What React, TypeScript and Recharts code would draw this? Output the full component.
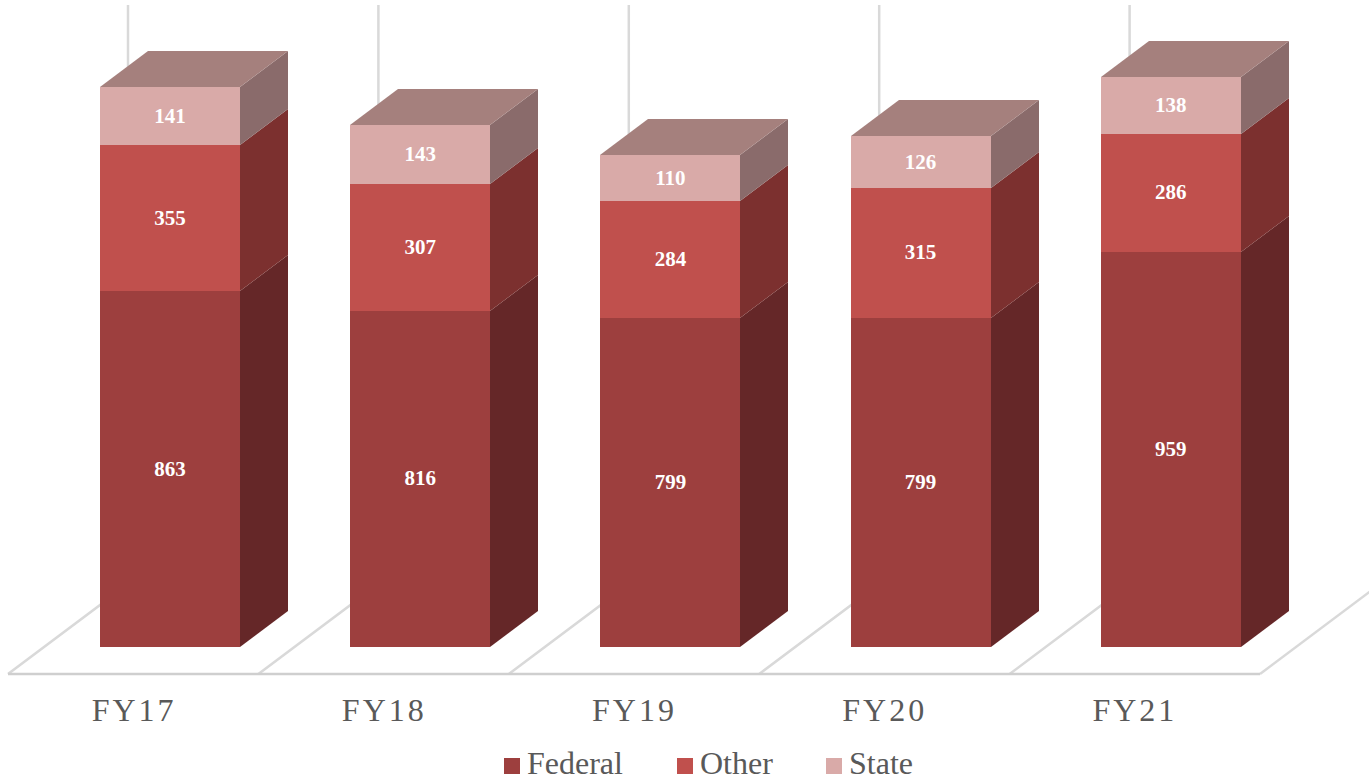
import { Bar, BarChart, LabelList, Legend, XAxis, YAxis } from "recharts";

const YEARS = ["FY17", "FY18", "FY19", "FY20", "FY21"];
const FEDERAL = [863, 816, 799, 799, 959];
const OTHER = [355, 307, 284, 315, 286];
const STATE = [141, 143, 110, 126, 138];

const rows = YEARS.map((year, i) => ({
  year,
  Federal: FEDERAL[i],
  Other: OTHER[i],
  State: STATE[i],
}));

const FONT = "'Liberation Serif', 'Times New Roman', serif";
const TEXT = "#595959";
const GRID = "#d9d9d9";

// fake 3d: how far the back of a box sits from its front
const DEPTH_X = 48;
const DEPTH_Y = 36;

// floor and back wall of the "3d" plot
const FLOOR_X = 8;
const FLOOR_Y = 674;
const FLOOR_BAND = 250.4;
const FLOOR_DX = 120;
const FLOOR_DY = 90;

function Floor() {
  return (
    <g stroke={GRID} strokeWidth={2.5} fill="none">
      {[0, 1, 2, 3, 4, 5].map((i) => {
        const x = FLOOR_X + i * FLOOR_BAND;
        return (
          <polyline
            key={i}
            points={
              i < 5
                ? `${x},${FLOOR_Y} ${x + FLOOR_DX},${FLOOR_Y - FLOOR_DY} ${x + FLOOR_DX},5`
                : `${x},${FLOOR_Y} ${x + FLOOR_DX},${FLOOR_Y - FLOOR_DY}`
            }
          />
        );
      })}
      <line
        x1={FLOOR_X}
        y1={FLOOR_Y}
        x2={FLOOR_X + 5 * FLOOR_BAND}
        y2={FLOOR_Y}
        stroke="#cfcfcf"
      />
    </g>
  );
}

function Box(props: any) {
  const { front, side, top } = props;
  // snap to whole pixels so no white seams show between the stacked faces
  const x = Math.round(props.x);
  const y = Math.round(props.y);
  const r = Math.round(props.x + props.width);
  const b = Math.round(props.y + props.height);
  return (
    <g>
      <polygon
        points={`${r},${y} ${r + DEPTH_X},${y - DEPTH_Y} ${r + DEPTH_X},${b - DEPTH_Y} ${r},${b}`}
        fill={side}
      />
      {top && (
        <polygon
          points={`${x},${y} ${x + DEPTH_X},${y - DEPTH_Y} ${r + DEPTH_X},${y - DEPTH_Y} ${r},${y}`}
          fill={top}
        />
      )}
      <rect x={x} y={y} width={r - x} height={b - y} fill={front} />
    </g>
  );
}

function LegendRow({ payload }: any) {
  return (
    <div style={{ position: "relative", height: 36, fontFamily: FONT, fontSize: 32, color: TEXT }}>
      {(payload || []).map((p: any, i: number) => (
        <span key={p.value} style={{ position: "absolute", left: [504, 677, 826][i], top: 0, whiteSpace: "nowrap" }}>
          <span
            style={{
              display: "inline-block",
              width: 16,
              height: 16,
              marginRight: 7,
              background: p.color,
            }}
          />
          {p.value}
        </span>
      ))}
    </div>
  );
}

const labelStyle = { fill: "#ffffff", fontFamily: FONT, fontSize: 21, fontWeight: 700 };

export default function App() {
  return (
    <div style={{ position: "absolute", left: 0, top: 0, background: "#fff" }}>
      <BarChart
        width={1369}
        height={779}
        data={rows}
        margin={{ top: 29, right: 73, bottom: 0, left: 45 }}
      >
        <Floor />
        <XAxis
          dataKey="year"
          axisLine={false}
          tickLine={false}
          height={96}
          interval={0}
          tickMargin={45}
          dx={-36}
          tick={{ fill: TEXT, fontFamily: FONT, fontSize: 32, letterSpacing: 3 }}
        />
        <YAxis hide domain={[0, 1500]} />
        <Bar
          dataKey="Federal"
          stackId="a"
          barSize={140}
          fill="#9d3f3e"
          isAnimationActive={false}
          shape={(p: any) => <Box {...p} front="#9d3f3e" side="#652728" />}
        >
          <LabelList dataKey="Federal" position="center" dy={-1} style={labelStyle} />
        </Bar>
        <Bar
          dataKey="Other"
          stackId="a"
          barSize={140}
          fill="#c0504d"
          isAnimationActive={false}
          shape={(p: any) => <Box {...p} front="#c0504d" side="#7c302f" />}
        >
          <LabelList dataKey="Other" position="center" dy={-1} style={labelStyle} />
        </Bar>
        <Bar
          dataKey="State"
          stackId="a"
          barSize={140}
          fill="#d9aaa8"
          isAnimationActive={false}
          shape={(p: any) => <Box {...p} front="#d9aaa8" side="#8a6b6b" top="#a5807d" />}
        >
          <LabelList dataKey="State" position="center" dy={-1} style={labelStyle} />
        </Bar>
        <Legend
          content={<LegendRow />}
          wrapperStyle={{ left: 0, top: 745, width: 1369, bottom: "auto" }}
        />
      </BarChart>
    </div>
  );
}
